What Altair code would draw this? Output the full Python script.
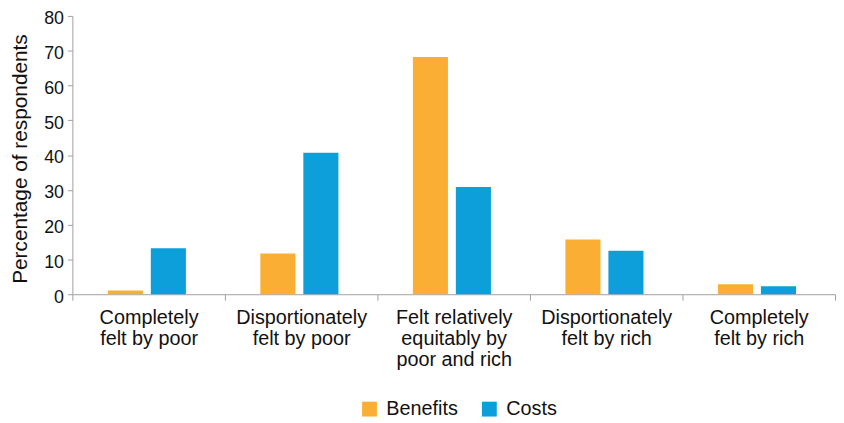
import altair as alt
import pandas as pd

categories = [
    "Completely\nfelt by poor",
    "Disportionately\nfelt by poor",
    "Felt relatively\nequitably by\npoor and rich",
    "Disportionately\nfelt by rich",
    "Completely\nfelt by rich",
]
series = ["Benefits", "Costs"]
benefits = [1.1, 11.7, 68.2, 15.7, 2.9]
costs = [13.2, 40.7, 30.8, 12.5, 2.3]
y_ticks = [0, 10, 20, 30, 40, 50, 60, 70, 80]
colors = ["#FAAF34", "#0C9FD9"]

rows = []
for c, b, k in zip(categories, benefits, costs):
    rows.append({"category": c, "series": "Benefits", "value": b})
    rows.append({"category": c, "series": "Costs", "value": k})
df = pd.DataFrame(rows)

FONT = "Liberation Sans, Arial, sans-serif"
GRAY = "#a0a0a0"

chart = (
    alt.Chart(df)
    .mark_bar()
    .encode(
        x=alt.X(
            "category:N",
            sort=categories,
            scale=alt.Scale(paddingInner=0, paddingOuter=0),
            axis=alt.Axis(
                title=None,
                labelAngle=0,
                tickBand="extent",
                labelExpr="split(datum.label, '\\n')",
                labelFont=FONT,
                labelFontSize=20,
                labelLineHeight=21,
                labelColor="#111111",
                labelPadding=8,
                labelBaseline="top",
                tickSize=6,
                tickColor=GRAY,
                domainColor=GRAY,
                labelLimit=300,
            ),
        ),
        xOffset=alt.XOffset(
            "series:N",
            sort=series,
            scale=alt.Scale(paddingInner=0.184, paddingOuter=0.866, align=0.476),
        ),
        y=alt.Y(
            "value:Q",
            scale=alt.Scale(domain=[0, 80], nice=False),
            axis=alt.Axis(
                title="Percentage of respondents",
                values=y_ticks,
                grid=False,
                titleFont=FONT,
                titleFontSize=21,
                titleFontWeight="normal",
                titleColor="#111111",
                titleBaseline="alphabetic",
                titleX=-46,
                titleY=144,
                titleAngle=270,
                labelFont=FONT,
                labelFontSize=18,
                labelColor="#111111",
                labelPadding=4,
                labelOffset=3,
                tickSize=5,
                tickColor=GRAY,
                domainColor=GRAY,
            ),
        ),
        color=alt.Color(
            "series:N",
            sort=series,
            scale=alt.Scale(domain=series, range=colors),
            legend=alt.Legend(
                title=None,
                orient="none",
                direction="horizontal",
                legendX=290,
                legendY=387,
                symbolType="square",
                symbolSize=225,
                symbolStrokeWidth=0,
                labelFont=FONT,
                labelFontSize=20,
                labelColor="#111111",
                labelOffset=7,
                columnPadding=21,
                padding=0,
            ),
        ),
    )
    .properties(
        width=770,
        height=281,
        autosize=alt.AutoSizeParams(type="none"),
        padding={"left": 65, "top": 6, "right": 1, "bottom": 125},
    )
    .configure_view(stroke=None)
)

chart.save("out.html", embed_options={"renderer": "svg", "actions": False})
